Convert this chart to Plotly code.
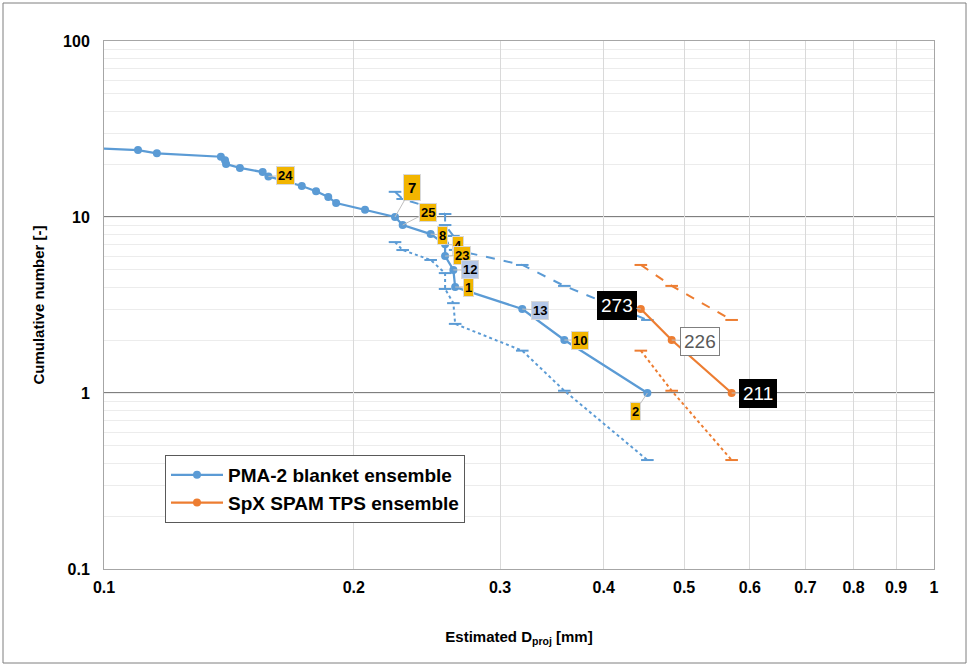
import math
import plotly.graph_objects as go

# ---------------- data ----------------
# PMA-2 blanket ensemble: cumulative number vs estimated D_proj [mm]
pma_d = [0.09, 0.1099, 0.1158, 0.1383, 0.1399, 0.1403, 0.1458, 0.1553, 0.1578, 0.165,
         0.1731, 0.1801, 0.1863, 0.1904, 0.2063, 0.2242, 0.2290, 0.2475, 0.2576, 0.2576,
         0.2636, 0.2649, 0.3191, 0.3586, 0.4515]
pma_n = [25, 24, 23, 22, 21, 20, 19, 18, 17, 16, 15, 14, 13, 12, 11, 10, 9, 8, 7, 6, 5, 4, 3, 2, 1]

# confidence bounds (n = 10 ... 1)
bound_n = [10, 9, 8, 7, 6, 5, 4, 3, 2, 1]
bound_upper = [13.9, 12.66, 11.3, 10.4, 9.0, 7.8, 6.5, 5.34, 4.06, 2.6]
bound_lower = [7.2, 6.49, 5.7, 4.8, 3.9, 3.24, 2.47, 1.74, 1.03, 0.416]

# data labels on PMA-2 points (point n -> label text)
pma_label_n = [17, 10, 9, 8, 7, 6, 5, 4, 3, 2, 1]
pma_label_text = ["24", "7", "25", "8", "4", "23", "12", "1", "13", "10", "2"]

# SpX SPAM TPS ensemble
spx_d = [0.4434, 0.483, 0.5704]
spx_n = [3, 2, 1]
spx_upper = [5.34, 4.06, 2.6]
spx_lower = [1.74, 1.03, 0.416]
spx_label_text = ["273", "226", "211"]

x_ticks = [0.1, 0.2, 0.3, 0.4, 0.5, 0.6, 0.7, 0.8, 0.9, 1]
x_tick_text = ["0.1", "0.2", "0.3", "0.4", "0.5", "0.6", "0.7", "0.8", "0.9", "1"]
y_decades = [0.1, 1, 10, 100]
y_decade_text = ["0.1", "1", "10", "100"]
y_minor = [0.2, 0.3, 0.4, 0.5, 0.6, 0.7, 0.8, 0.9,
           2, 3, 4, 5, 6, 7, 8, 9,
           20, 30, 40, 50, 60, 70, 80, 90]

# ---------------- styles ----------------
BLUE = "#5B9BD5"
ORANGE = "#ED7D31"
GOLD = "#F2B500"
LIGHTBLUE = "#B4C7E7"
FONT = "Liberation Sans, Arial, sans-serif"

fig = go.Figure()

# bounds first (under main lines)
pma_bx = [pma_d[pma_n.index(n)] for n in bound_n]
for yvals, dash, color, xs in [
    (bound_upper, "dash", BLUE, pma_bx),
    (bound_lower, "dot", BLUE, pma_bx),
    (spx_upper, "dash", ORANGE, spx_d),
    (spx_lower, "dot", ORANGE, spx_d),
]:
    fig.add_trace(go.Scatter(
        x=xs, y=yvals, mode="lines+markers", showlegend=False, hoverinfo="skip",
        line=dict(color=color, width=2, dash=dash),
        marker=dict(symbol="line-ew", size=9, line=dict(color=color, width=2)),
    ))

fig.add_trace(go.Scatter(
    x=pma_d, y=pma_n, mode="lines+markers", name="PMA-2 blanket ensemble",
    line=dict(color=BLUE, width=2.25), marker=dict(color=BLUE, size=8),
))
fig.add_trace(go.Scatter(
    x=spx_d, y=spx_n, mode="lines+markers", name="SpX SPAM TPS ensemble",
    line=dict(color=ORANGE, width=2.25), marker=dict(color=ORANGE, size=8),
))

# label styles: (ax, ay)
pma_label_offsets = {
    "24": (17, -1), "7": (17, -30), "25": (25, -13), "8": (12, 1), "4": (13, 1),
    "23": (17, -1), "12": (17, 0), "1": (13, 0), "13": (18, 1), "10": (16, 0), "2": (-12, 18),
}
annotations = []
for n, txt in zip(pma_label_n, pma_label_text):
    x = pma_d[pma_n.index(n)]
    ax, ay = pma_label_offsets[txt]
    bg = LIGHTBLUE if txt in ("12", "13") else GOLD
    big = txt == "7"
    annotations.append(dict(
        x=math.log10(x), y=math.log10(n), xref="x", yref="y", text=txt,
        showarrow=True, ax=ax, ay=ay, arrowhead=0, arrowwidth=1, arrowcolor="#BFBFBF",
        bgcolor=bg, bordercolor="#D9D9D9", borderwidth=1, borderpad=4 if big else 1,
        font=dict(family=FONT, size=15 if big else 13, color="#000000", weight="bold"),
    ))

spx_label_style = {
    "273": (-24, -4, "#000000", "#FFFFFF", "#000000"),
    "226": (28, 1, "#FFFFFF", "#595959", "#7F7F7F"),
    "211": (26, 0, "#000000", "#FFFFFF", "#000000"),
}
for x, n, txt in zip(spx_d, spx_n, spx_label_text):
    ax, ay, bg, fg, bc = spx_label_style[txt]
    annotations.append(dict(
        x=math.log10(x), y=math.log10(n), xref="x", yref="y", text=txt,
        showarrow=True, ax=ax, ay=ay, arrowhead=0, arrowwidth=1, arrowcolor="#BFBFBF",
        bgcolor=bg, bordercolor=bc, borderwidth=1, borderpad=3,
        font=dict(family=FONT, size=19, color=fg),
    ))

shapes = []
for v in [1, 10]:
    shapes.append(dict(type="line", xref="paper", yref="y", x0=0, x1=1, y0=v, y1=v,
                       line=dict(color="#7F7F7F", width=2), layer="below"))
# outer chart frame
shapes.append(dict(type="rect", xref="paper", yref="paper",
                   x0=-101 / 830, x1=1 + 32 / 830, y0=-94 / 528, y1=1 + 38 / 528,
                   line=dict(color="#7F7F7F", width=1)))

fig.update_layout(
    width=969, height=666,
    margin=dict(l=104, r=35, t=41, b=97),
    paper_bgcolor="white", plot_bgcolor="white",
    font=dict(family=FONT, size=15, color="#000000"),
    showlegend=True,
    legend=dict(x=0.0735, y=0.216, xanchor="left", yanchor="top",
                bgcolor="#FFFFFF", bordercolor="#595959", borderwidth=1,
                font=dict(family=FONT, size=19, color="#000000", weight="bold"),
                itemwidth=52, tracegroupgap=0),
    annotations=annotations,
    shapes=shapes,
    xaxis=dict(
        type="log", range=[-1, 0], tickvals=x_ticks, ticktext=x_tick_text,
        showgrid=True, gridcolor="#D9D9D9", gridwidth=1,
        showline=True, linecolor="#A6A6A6", linewidth=1, mirror=True,
        ticks="", ticklabelstandoff=4,
        tickfont=dict(family=FONT, size=16, weight="bold"),
        title=dict(text="Estimated D<sub>proj</sub> [mm]", standoff=36,
                   font=dict(family=FONT, size=15, weight="bold")),
        zeroline=False,
    ),
    yaxis=dict(
        type="log", range=[-1, 2], tickvals=y_decades, ticktext=y_decade_text,
        showgrid=True, gridcolor="#ECECEC", gridwidth=1,
        minor=dict(tickvals=y_minor, showgrid=True, gridcolor="#ECECEC", gridwidth=1, ticks=""),
        showline=True, linecolor="#A6A6A6", linewidth=1, mirror=True,
        ticks="", ticklabelstandoff=10,
        tickfont=dict(family=FONT, size=16, weight="bold"),
        title=dict(text="Cumulative number [-]", standoff=14,
                   font=dict(family=FONT, size=15, weight="bold")),
        zeroline=False,
    ),
)

fig.write_html("out.html", config={"displayModeBar": False},
               post_script="document.body.style.margin='0px';document.body.style.overflow='hidden';")
